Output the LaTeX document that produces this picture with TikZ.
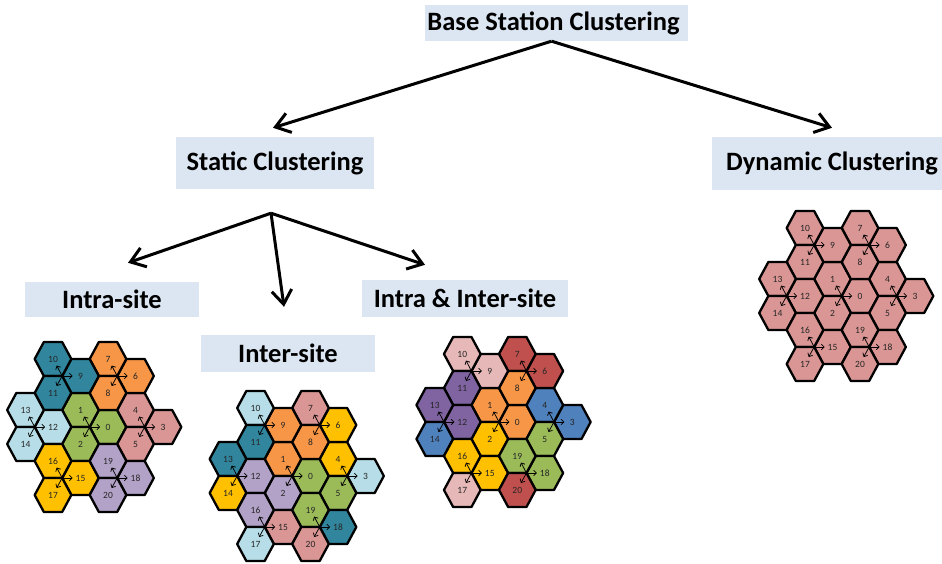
\documentclass[tikz,border=0pt]{standalone}
\usepackage{fontspec}
\setmainfont{Carlito}
\usetikzlibrary{arrows.meta}
\definecolor{boxfill}{HTML}{DCE6F2}
\definecolor{cTeal}{HTML}{31859C}
\definecolor{cOrange}{HTML}{F79646}
\definecolor{cLBlue}{HTML}{B7DEE8}
\definecolor{cGreen}{HTML}{9BBB59}
\definecolor{cRose}{HTML}{D99694}
\definecolor{cGold}{HTML}{FFC000}
\definecolor{cLav}{HTML}{B3A2C7}
\definecolor{cLPink}{HTML}{E6B9B8}
\definecolor{cDRed}{HTML}{C0504D}
\definecolor{cPurple}{HTML}{8064A2}
\definecolor{cBlue}{HTML}{4F81BD}
\tikzset{
  titlebox/.style={fill=boxfill, inner sep=0pt, text=black,
    font=\bfseries\fontsize{26.5}{30}\selectfont},
  bigarr/.style={line width=3pt, line join=round,
    -{Straight Barb[length=14pt,width=20pt,line join=miter]}},
  smallarr/.style={line width=0.75pt, -{Straight Barb[length=2.8pt,width=5.5pt]}},
  hexcell/.style={line width=2.3pt, line join=round, draw=black},
  cellnum/.style={font=\fontsize{9.5}{10}\selectfont, text=black!85, inner sep=0pt}
}
% cluster: #1 x, #2 y, #3 id, #4 list label/col/row/colour
\newcommand{\HexCluster}[4]{%
  \begin{scope}[shift={(#1,#2)}]
    \foreach \l/\c/\k/\col in {#4}{
      \filldraw[hexcell, fill=\col] (\c*27.5,\k*17) ++(-18.33,0) -- ++(9.17,-17)
        -- ++(18.33,0) -- ++(9.17,17) -- ++(-9.17,17) -- ++(-18.33,0) -- cycle;
    }
    \foreach \c/\k in {3/4,5/4,4/1,2/1,1/4,2/7,4/7}{
      \coordinate (v) at (\c*27.5-18.33,\k*17);
      \draw[smallarr] (v) -- ++(10.5,0);
      \draw[smallarr] (v) -- ++(-5.5,-10.5);
      \draw[smallarr] (v) -- ++(-5.5,10);
    }
    \foreach \l/\c/\k/\col in {#4}{
      \node[cellnum] (h#3-\l) at (\c*27.5,\k*17) {\l};
    }
  \end{scope}}
\begin{document}
\begin{tikzpicture}[x=1pt,y=-1pt]
\useasboundingbox (0,0) rectangle (942,564);
% title boxes
\node[titlebox, minimum width=263pt, minimum height=36pt] (base) at (556.5,23) {Base Station Clustering\hspace*{6pt}};
\node[titlebox, minimum width=198pt, minimum height=52pt] (static) at (275,163) {Static Clustering};
\node[titlebox, minimum width=230pt, minimum height=53pt] (dyn) at (827,163.5) {\hspace*{10pt}Dynamic Clustering};
\node[titlebox, minimum width=174pt, minimum height=35pt] (intra) at (112,299.5) {Intra-site};
\node[titlebox, minimum width=174pt, minimum height=37pt] (inter) at (288,353.5) {Inter-site};
\node[titlebox, minimum width=206pt, minimum height=37pt] (both) at (465,298.5) {Intra \& Inter-site};
% connectors
\coordinate (bapex) at ([xshift=-5pt]base.south);
\coordinate (sttip) at ([xshift=-2pt,yshift=9pt]static.north);
\coordinate (dytip) at ([xshift=5pt,yshift=9pt]dyn.north);
\coordinate (sapex) at ([xshift=-4pt,yshift=-24pt]static.south);
\coordinate (t1) at ([xshift=16pt,yshift=19pt]intra.north);
\coordinate (t2) at ([xshift=-4pt,yshift=28pt]inter.north);
\coordinate (t3) at ([xshift=-40pt,yshift=15pt]both.north);
\draw[bigarr] (bapex) -- (sttip);
\draw[bigarr] (bapex) -- (dytip);
\draw[bigarr] (sapex) -- (t1);
\draw[bigarr] (sapex) -- (t2);
\draw[bigarr] (sapex) -- (t3);
% clusters
\HexCluster{25.5}{359}{a}{0/3/4/cGreen,1/2/3/cGreen,2/2/5/cGreen,3/5/4/cRose,4/4/3/cRose,5/4/5/cRose,6/4/1/cOrange,7/3/0/cOrange,8/3/2/cOrange,9/2/1/cTeal,10/1/0/cTeal,11/1/2/cTeal,12/1/4/cLBlue,13/0/3/cLBlue,14/0/5/cLBlue,15/2/7/cGold,16/1/6/cGold,17/1/8/cGold,18/4/7/cLav,19/3/6/cLav,20/3/8/cLav}
\HexCluster{228}{408}{b}{0/3/4/cGreen,1/2/3/cOrange,2/2/5/cLav,3/5/4/cLBlue,4/4/3/cGold,5/4/5/cGreen,6/4/1/cGold,7/3/0/cRose,8/3/2/cOrange,9/2/1/cOrange,10/1/0/cLBlue,11/1/2/cTeal,12/1/4/cLav,13/0/3/cTeal,14/0/5/cGold,15/2/7/cRose,16/1/6/cLav,17/1/8/cLBlue,18/4/7/cTeal,19/3/6/cGreen,20/3/8/cRose}
\HexCluster{434.8}{354}{c}{0/3/4/cOrange,1/2/3/cOrange,2/2/5/cGold,3/5/4/cBlue,4/4/3/cBlue,5/4/5/cGreen,6/4/1/cDRed,7/3/0/cDRed,8/3/2/cOrange,9/2/1/cLPink,10/1/0/cLPink,11/1/2/cPurple,12/1/4/cPurple,13/0/3/cPurple,14/0/5/cBlue,15/2/7/cGold,16/1/6/cGold,17/1/8/cLPink,18/4/7/cGreen,19/3/6/cGreen,20/3/8/cDRed}
\HexCluster{777.5}{228}{d}{0/3/4/cRose,1/2/3/cRose,2/2/5/cRose,3/5/4/cRose,4/4/3/cRose,5/4/5/cRose,6/4/1/cRose,7/3/0/cRose,8/3/2/cRose,9/2/1/cRose,10/1/0/cRose,11/1/2/cRose,12/1/4/cRose,13/0/3/cRose,14/0/5/cRose,15/2/7/cRose,16/1/6/cRose,17/1/8/cRose,18/4/7/cRose,19/3/6/cRose,20/3/8/cRose}
\end{tikzpicture}
\end{document}
